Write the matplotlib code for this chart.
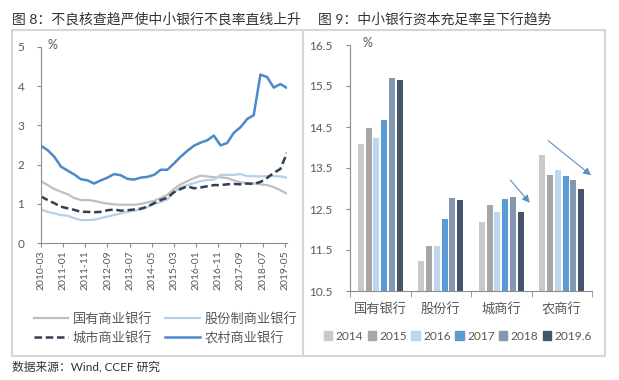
import numpy as np
import pandas as pd
import matplotlib
matplotlib.use("Agg")
import matplotlib.pyplot as plt
from matplotlib.patches import Rectangle, Patch
from matplotlib.lines import Line2D

plt.rcParams['font.family'] = ['Lato', 'Noto Sans CJK SC', 'DejaVu Sans']

# ---- figure 8 data: NPL ratio (%) by bank type, quarterly 2010Q1 - 2019Q2
quarters = pd.date_range("2010-03-01", periods=38, freq="3MS")
state_owned = [1.58, 1.48, 1.38, 1.31, 1.25, 1.15, 1.10, 1.10, 1.08, 1.04, 1.01, 0.99,
               0.98, 0.98, 0.98, 1.00, 1.04, 1.08, 1.15, 1.23, 1.38, 1.50, 1.58, 1.66,
               1.72, 1.70, 1.68, 1.68, 1.66, 1.60, 1.55, 1.53, 1.52, 1.50, 1.48, 1.43,
               1.35, 1.26]
joint_stock = [0.86, 0.80, 0.76, 0.72, 0.70, 0.64, 0.59, 0.59, 0.60, 0.64, 0.68, 0.72,
               0.76, 0.80, 0.83, 0.86, 0.92, 1.00, 1.05, 1.12, 1.30, 1.42, 1.48, 1.53,
               1.58, 1.61, 1.62, 1.74, 1.74, 1.74, 1.76, 1.71, 1.71, 1.70, 1.71, 1.71,
               1.70, 1.67]
city = [1.19, 1.10, 1.02, 0.93, 0.89, 0.85, 0.80, 0.80, 0.79, 0.80, 0.84, 0.86,
        0.83, 0.84, 0.86, 0.88, 0.93, 1.02, 1.10, 1.16, 1.30, 1.38, 1.45, 1.40,
        1.42, 1.45, 1.48, 1.48, 1.50, 1.51, 1.50, 1.52, 1.51, 1.56, 1.66, 1.79,
        1.89, 2.30]
rural = [2.48, 2.37, 2.20, 1.95, 1.85, 1.75, 1.63, 1.60, 1.52, 1.60, 1.67, 1.76,
         1.73, 1.64, 1.62, 1.67, 1.69, 1.74, 1.87, 1.87, 2.03, 2.20, 2.35, 2.48,
         2.56, 2.62, 2.74, 2.49, 2.55, 2.81, 2.95, 3.16, 3.26, 4.29, 4.23, 3.96,
         4.05, 3.95]
line_labels = ["国有商业银行", "股份制商业银行", "城市商业银行", "农村商业银行"]
date_ticks = ["2010-03", "2011-01", "2011-11", "2012-09", "2013-07", "2014-05",
              "2015-03", "2016-01", "2016-11", "2017-09", "2018-07", "2019-05"]

# ---- figure 9 data: capital adequacy ratio (%)
bank_types = ["国有银行", "股份行", "城商行", "农商行"]
years = ["2014", "2015", "2016", "2017", "2018", "2019.6"]
car = {
    "2014":   [14.09, 11.23, 12.19, 13.81],
    "2015":   [14.48, 11.59, 12.59, 13.34],
    "2016":   [14.24, 11.60, 12.42, 13.46],
    "2017":   [14.66, 12.26, 12.75, 13.30],
    "2018":   [15.69, 12.76, 12.80, 13.20],
    "2019.6": [15.65, 12.73, 12.43, 12.98],
}
bar_colors = ["#C9C9C9", "#A6A6A6", "#BDD7EE", "#5B9BD5", "#8497B0", "#44546A"]

W, H = 619, 380
fig = plt.figure(figsize=(W / 100, H / 100), dpi=100)

def fx(px):
    return px / W

def fy(py):
    return 1 - py / H

axis_col = "#8C8C8C"
text_col = "#595959"

# panel boxes
for x0, x1 in [(12, 303), (303, 605)]:
    fig.patches.append(Rectangle((fx(x0), fy(356)), fx(x1 - x0), (356 - 30) / H,
                                 transform=fig.transFigure, fill=False,
                                 edgecolor="#D6D6D6", lw=1.5))

fig.text(fx(12), fy(19), "图 8：不良核查趋严使中小银行不良率直线上升",
         fontsize=10, va="center", ha="left", color="#333333")
fig.text(fx(318), fy(19), "图 9：中小银行资本充足率呈下行趋势",
         fontsize=10, va="center", ha="left", color="#333333")
fig.text(fx(12), fy(367), "数据来源：Wind, CCEF 研究",
         fontsize=8.5, va="center", ha="left", color="#333333")

# ---------------- left chart
ax1 = fig.add_axes([fx(41), fy(243.3), fx(287 - 41), (243.3 - 46.7) / H])
months = np.array([(d.year - 2010) * 12 + d.month - 3 for d in quarters])
styles = [dict(color="#BFBFBF", lw=1.6),
          dict(color="#B4D0EA", lw=1.6),
          dict(color="#333F50", lw=1.8, ls=(0, (3, 1.5))),
          dict(color="#4A8AC9", lw=1.8)]
for series, st in zip([state_owned, joint_stock, city, rural], styles):
    ax1.plot(months, series, **st)
ax1.set_xlim(0, 111)
ax1.set_ylim(0, 5)
ax1.set_yticks(range(0, 6))
ax1.set_xticks(range(0, 111, 10))
ax1.set_xticklabels(date_ticks, rotation=90, fontsize=7.5, color=text_col)
ax1.tick_params(axis="y", labelsize=8.5, colors=text_col, length=3,
                color=axis_col, pad=9)
ax1.tick_params(axis="x", length=3, color=axis_col, pad=2)
for s in ["top", "right"]:
    ax1.spines[s].set_visible(False)
for s in ["left", "bottom"]:
    ax1.spines[s].set_color(axis_col)
ax1.text(0.025, 1.01, "%", transform=ax1.transAxes, fontsize=9,
         color=text_col, va="center", ha="left")

# legend fills column-wise, so order handles to get rows 国有/股份制, 城市/农村
order = [0, 2, 1, 3]
handles = [Line2D([], [], **styles[i]) for i in order]
leg1 = fig.legend(handles, [line_labels[i] for i in order], loc="center left",
                  ncol=2, bbox_to_anchor=(fx(27), fy(328)), frameon=False,
                  fontsize=9.5, handlelength=2.6, handletextpad=0.35,
                  columnspacing=1.0, labelspacing=0.45, borderpad=0)
for t in leg1.get_texts():
    t.set_color(text_col)

# ---------------- right chart
ax2 = fig.add_axes([fx(350), fy(291), fx(592 - 350), (291 - 45) / H])
x = np.arange(len(bank_types))
step = 0.129
for i, yr in enumerate(years):
    ax2.bar(x + (i - 2.5) * step, np.array(car[yr]) - 10.5, bottom=10.5,
            width=0.1, color=bar_colors[i], label=yr)
ax2.set_xlim(-0.5, 3.5)
ax2.set_ylim(10.5, 16.5)
ax2.set_yticks(np.arange(10.5, 16.6, 1.0))
ax2.set_yticklabels([f"{v:.1f}" for v in np.arange(10.5, 16.6, 1.0)])
ax2.set_xticks(x)
ax2.set_xticklabels(bank_types, fontsize=9.5, color=text_col)
ax2.set_xticks(np.arange(-0.5, 3.6, 1), minor=True)
ax2.tick_params(axis="x", which="major", length=0, pad=8)
ax2.tick_params(axis="x", which="minor", length=4, color=axis_col)
ax2.tick_params(axis="y", labelsize=8.5, colors=text_col, length=3,
                color=axis_col, pad=10)
for s in ["top", "right"]:
    ax2.spines[s].set_visible(False)
for s in ["left", "bottom"]:
    ax2.spines[s].set_color(axis_col)
ax2.text(0.05, 1.01, "%", transform=ax2.transAxes, fontsize=9,
         color=text_col, va="center", ha="left")

arrow = dict(arrowstyle="-|>", color="#5B8FC7", lw=0.8, mutation_scale=11)
ax2.annotate("", xy=(2.50, 12.60), xytext=(2.12, 13.26), arrowprops=arrow,
             annotation_clip=False)
ax2.annotate("", xy=(3.52, 13.28), xytext=(2.74, 14.21), arrowprops=arrow,
             annotation_clip=False)

bar_handles = [Patch(color=c) for c in bar_colors]
leg2 = fig.legend(bar_handles, years, loc="center", ncol=6,
                  bbox_to_anchor=(fx(458), fy(336)), frameon=False,
                  fontsize=8.6, handlelength=0.7, handleheight=0.7,
                  handletextpad=0.3, columnspacing=0.35, borderpad=0)
for t in leg2.get_texts():
    t.set_color(text_col)

fig.savefig("out.png", dpi=100)
